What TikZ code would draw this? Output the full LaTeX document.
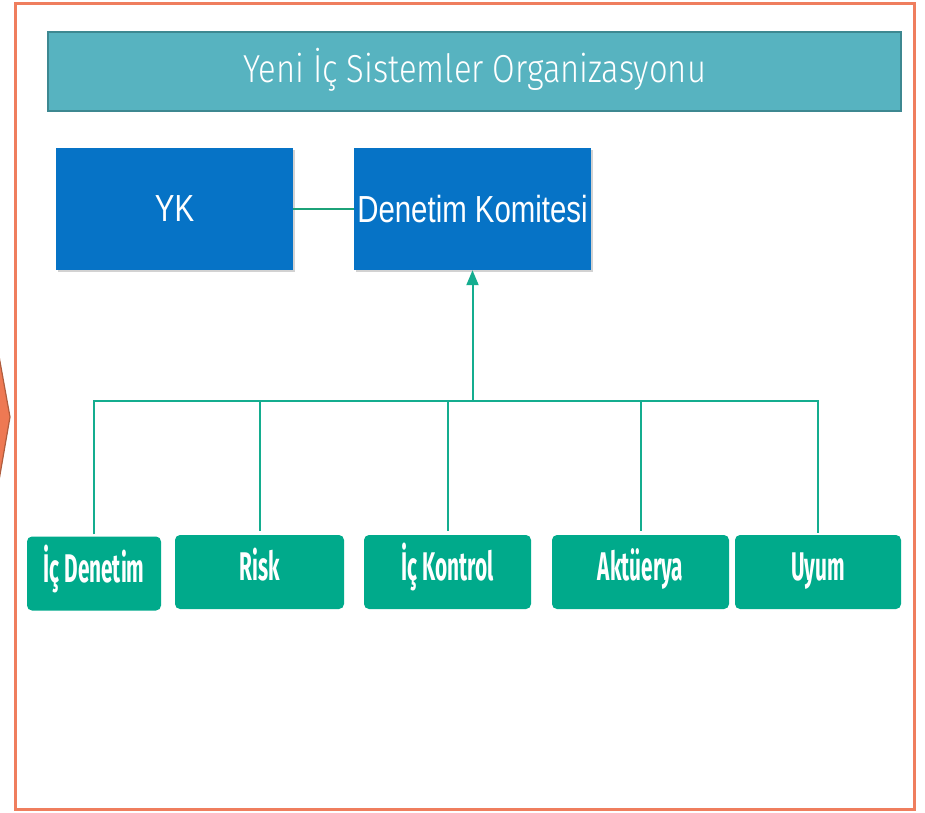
\documentclass[tikz,border=0pt]{standalone}
\usepackage{fontspec}
\setmainfont{Liberation Sans}
\newfontfamily\boxfont[FakeStretch=0.78]{Liberation Sans}
\newfontfamily\titlefont[FakeStretch=0.84]{Fira Sans Light}
\newfontfamily\unitfont[FakeStretch=0.52]{Fira Sans}
\usetikzlibrary{arrows.meta,shadows}
\newlength{\du}
\setlength{\du}{1pt}

\begin{document}
\begin{tikzpicture}[x=1\du,y=1\du,
  frame/.style={draw=framecolor,line width=3\du},
  titlebar/.style={draw=titleedge,fill=titlefill,line width=2.5\du,
    minimum width=853\du,minimum height=79\du,inner sep=0pt,text=white,
    font=\titlefont\fontsize{39}{39}\selectfont,text height=28\du,text depth=7\du},
  board/.style={fill=boardblue,minimum width=237\du,minimum height=122\du,
    inner sep=0pt,text=white,font=\boxfont\fontsize{37.7}{38}\selectfont,
    drop shadow={shadow xshift=1.5\du,shadow yshift=-2\du,opacity=.35}},
  unit/.style={fill=unitgreen,rounded corners=5\du,minimum height=74\du,
    inner sep=0pt,text=white,font=\unitfont\bfseries\fontsize{40}{40}\selectfont,
    text height=22\du,text depth=5\du},
  link/.style={draw=linkgreen,line width=2\du},
  boardlink/.style={draw=boardline,line width=2\du}]
\pgftransformyscale{-1.000000}
\definecolor{framecolor}{rgb}{0.937255, 0.494118, 0.368627}
\definecolor{chevronfill}{rgb}{0.933333, 0.474510, 0.325490}
\definecolor{chevronline}{rgb}{0.690196, 0.364706, 0.243137}
\definecolor{titlefill}{rgb}{0.341176, 0.701961, 0.752941}
\definecolor{titleedge}{rgb}{0.239216, 0.533333, 0.568627}
\definecolor{boardblue}{rgb}{0.023529, 0.450980, 0.776471}
\definecolor{boardline}{rgb}{0.109804, 0.635294, 0.470588}
\definecolor{unitgreen}{rgb}{0.000000, 0.666667, 0.545098}
\definecolor{linkgreen}{rgb}{0.078431, 0.678431, 0.560784}
\fill[white] (0,0) rectangle (925,812);
\useasboundingbox (0,0) rectangle (925,812);
% chevron behind the frame
\filldraw[fill=chevronfill,draw=chevronline,line width=1.2\du] (-3,345)--(10,417)--(-3,492)--cycle;
\draw[frame,fill=white] (15.5,3.5) rectangle (914.5,809.5);
\node[titlebar] (title) at (474.5,71.5) {Yeni İç Sistemler Organizasyonu};
\node[board] (yk) at (174.5,209) {YK};
\node[board] (dk) at (472.5,209) {Denetim Komitesi};
\draw[boardlink] (yk) -- (dk);
% units
\node[unit,minimum width=134\du] (icdenetim) at (94,573.5) {İç Denetim};
\node[unit,minimum width=169\du] (risk) at (259.5,572) {Risk};
\node[unit,minimum width=167\du] (ickontrol) at (447.5,572) {İç Kontrol};
\node[unit,minimum width=177\du] (akturya) at (640.5,572) {Aktüerya};
\node[unit,minimum width=166\du] (uyum) at (818,572) {Uyum};
\coordinate (hub) at (472.5,401);
\draw[link] ([yshift=-2\du]icdenetim.north) |- (hub) -| ([yshift=-2\du]uyum.north);
\draw[link] ([yshift=-4\du]risk.north) -- (risk.north |- hub);
\draw[link] ([yshift=-4\du]ickontrol.north) -- (ickontrol.north |- hub);
\draw[link] ([yshift=-4\du]akturya.north) -- (akturya.north |- hub);
\draw[link,-{Triangle[width=12pt,length=15pt]}] (hub) -- (dk.south -| hub);
\end{tikzpicture}
\end{document}
